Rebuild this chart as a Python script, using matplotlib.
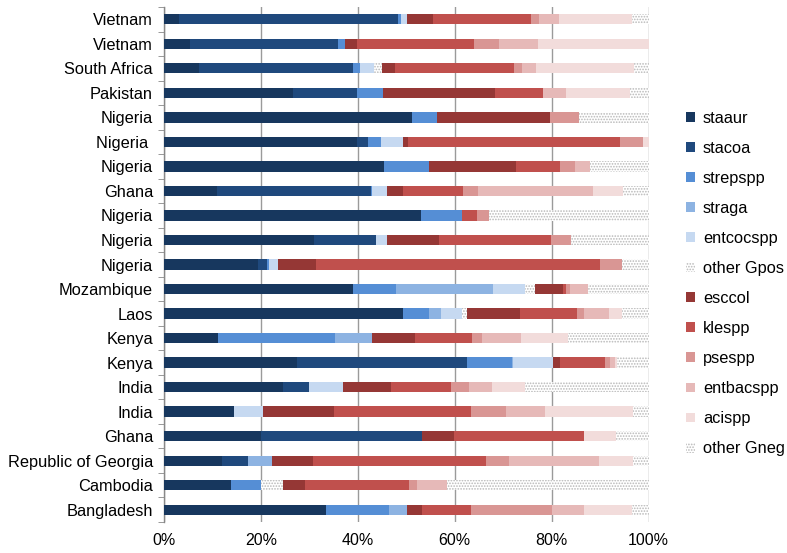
import matplotlib
matplotlib.use("Agg")
import matplotlib.pyplot as plt
from matplotlib.patches import Patch
from matplotlib.ticker import FixedLocator, PercentFormatter
import numpy as np

plt.rcParams['font.family'] = ['Liberation Sans', 'DejaVu Sans']
plt.rcParams['hatch.linewidth'] = 0.8

countries = ["Vietnam", "Vietnam", "South Africa", "Pakistan", "Nigeria", "Nigeria ",
             "Nigeria", "Ghana", "Nigeria", "Nigeria", "Nigeria", "Mozambique", "Laos",
             "Kenya", "Kenya", "India", "India", "Ghana", "Republic of Georgia",
             "Cambodia", "Bangladesh"]

series_names = ["staaur", "stacoa", "strepspp", "straga", "entcocspp", "other Gpos",
                "esccol", "klespp", "psespp", "entbacspp", "acispp", "other Gneg"]

staaur     = [3.0, 5.4, 7.2, 26.7, 51.1, 39.8, 45.4, 10.9, 53.1, 31.0, 19.3, 39.0, 49.3, 11.2, 27.5, 24.6, 14.5, 20.0, 11.9, 13.8, 33.4]
stacoa     = [45.2, 30.5, 31.9, 13.2, 0, 2.4, 0, 31.8, 0, 12.7, 2.0, 0, 0, 0, 35.1, 5.4, 0, 33.2, 5.5, 0, 0]
strepspp   = [0.7, 1.5, 1.4, 5.4, 5.2, 2.5, 9.2, 0.3, 8.4, 0, 0.4, 8.9, 5.3, 24.1, 9.2, 0, 0, 0, 0, 6.2, 13.1]
straga     = [0, 0, 0, 0, 0, 0, 0, 0, 0, 0, 0, 20.1, 2.5, 7.6, 0.3, 0, 0, 0, 4.8, 0, 3.6]
entcocspp  = [1.3, 0, 2.9, 0, 0, 4.7, 0, 3.0, 0, 2.4, 1.9, 6.5, 4.4, 0, 8.1, 7.0, 5.9, 0, 0, 0, 0]
other_gpos = [0, 0, 1.5, 0, 0, 0, 0, 0, 0, 0, 0, 2.1, 1.1, 0, 0, 0, 0, 0, 0, 4.6, 0]
esccol     = [5.4, 2.4, 2.8, 23.0, 23.3, 1.0, 18.1, 3.4, 0, 10.7, 7.7, 5.8, 10.8, 8.9, 1.6, 9.8, 14.7, 6.7, 8.6, 4.5, 3.1]
klespp     = [20.1, 24.1, 24.6, 10.0, 0, 43.7, 9.1, 12.3, 3.1, 23.0, 58.6, 0.6, 11.8, 11.7, 9.3, 12.5, 28.3, 26.7, 35.7, 21.5, 10.1]
psespp     = [1.7, 5.3, 1.5, 0, 6.0, 4.7, 3.1, 3.2, 2.5, 4.2, 4.7, 0.7, 1.4, 2.1, 0.9, 3.7, 7.1, 0, 4.7, 1.6, 16.7]
entbacspp  = [4.2, 8.0, 2.9, 4.7, 0, 0, 3.1, 23.6, 0, 0, 0, 3.9, 5.3, 8.0, 1.1, 4.8, 8.2, 0, 18.5, 6.2, 6.6]
acispp     = [15.0, 22.8, 20.3, 13.1, 0, 1.2, 0, 6.3, 0, 0, 0, 0, 2.7, 9.7, 0.4, 6.7, 18.1, 6.7, 7.0, 0, 10.0]
other_gneg = [3.4, 0, 3.0, 3.9, 14.4, 0, 12.0, 5.2, 32.9, 16.0, 5.4, 12.4, 5.4, 16.7, 6.5, 25.5, 3.2, 6.7, 3.3, 41.6, 3.4]

data = [staaur, stacoa, strepspp, straga, entcocspp, other_gpos,
        esccol, klespp, psespp, entbacspp, acispp, other_gneg]

colors = ["#17375e", "#1f497d", "#558ed5", "#8db3e2", "#c6d9f1", "white",
          "#953735", "#c0504d", "#d99694", "#e6b9b8", "#f2dcdb", "white"]
hatched = [False, False, False, False, False, True,
           False, False, False, False, False, True]

fig = plt.figure(figsize=(7.87, 5.53), dpi=100)
ax = fig.add_axes([164/787, 1 - 522/553, (648.5 - 164)/787, (522 - 7)/553])

y = np.arange(len(countries))
left = np.zeros(len(countries))
handles = []
for name, vals, col, h in zip(series_names, data, colors, hatched):
    vals = np.array(vals, dtype=float) / 100.0
    if h:
        ax.barh(y, vals, left=left, height=0.42, color="white", edgecolor="#b8b8b8",
                hatch="......", linewidth=0, zorder=3)
        handles.append(Patch(facecolor="white", edgecolor="#b8b8b8", hatch="......",
                             linewidth=0, label=name))
    else:
        ax.barh(y, vals, left=left, height=0.42, color=col, linewidth=0, zorder=3)
        handles.append(Patch(facecolor=col, linewidth=0, label=name))
    left += vals

ax.set_xlim(0, 1.0)
ax.set_ylim(len(countries) - 0.5, -0.5)
ax.set_xticks(np.arange(0, 1.01, 0.2))
ax.xaxis.set_major_formatter(PercentFormatter(1.0, decimals=0))
ax.set_yticks(y)
ax.set_yticklabels(countries)
ax.yaxis.set_minor_locator(FixedLocator(np.arange(-0.5, len(countries), 1.0)))
ax.tick_params(axis='y', which='major', length=0, pad=8, labelsize=11.8, colors='black')
ax.tick_params(axis='y', which='minor', length=4, color='#888888', direction='out')
ax.tick_params(axis='x', which='major', length=0, pad=8, labelsize=11.5)

ax.grid(axis='x', color='#9a9a9a', linewidth=1.0, zorder=0)
ax.set_axisbelow(True)
for s in ['top', 'right', 'bottom']:
    ax.spines[s].set_visible(False)
ax.spines['left'].set_color('#888888')
ax.spines['left'].set_linewidth(1.0)

fig.legend(handles=handles, loc='upper left', bbox_to_anchor=(679/787, 1 - 104/553),
           frameon=False, fontsize=11.8, handlelength=0.55, handleheight=0.55,
           handletextpad=0.5, labelspacing=0.92, borderaxespad=0)

fig.savefig("out.png", dpi=100)
